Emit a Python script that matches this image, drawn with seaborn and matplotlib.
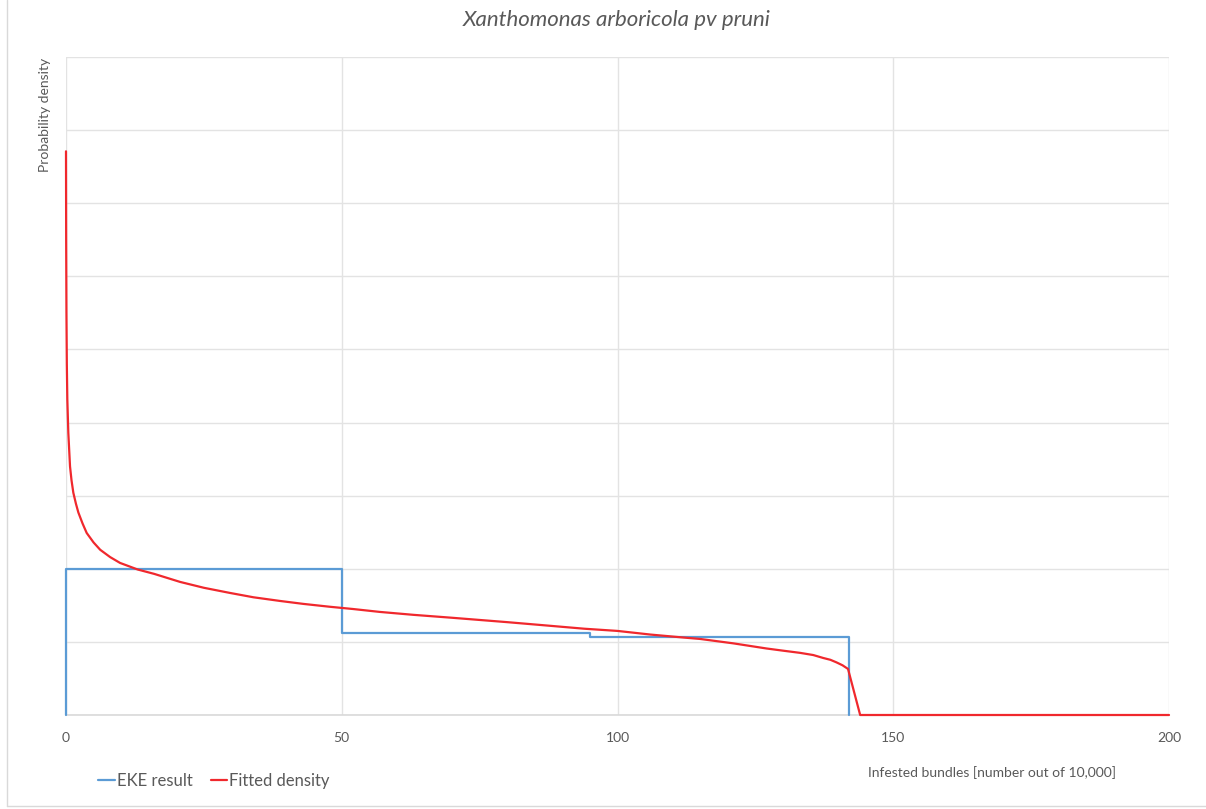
import numpy as np
import pandas as pd
import matplotlib
matplotlib.use("Agg")
import matplotlib.pyplot as plt
import seaborn as sns
from matplotlib.lines import Line2D

# ---- data ----
title = "Xanthomonas arboricola pv pruni"
xlabel = "Infested bundles [number out of 10,000]"
ylabel = "Probability density"
x_ticks = [0, 50, 100, 150, 200]

# EKE result histogram (bin edges and heights, in gridline units)
eke_edges = [0, 50, 95, 142]
eke_heights = [2.0, 1.12, 1.065]

# Fitted density curve
fit_x = [0, 0.03, 0.08, 0.15, 0.24, 0.42, 0.73, 1.0, 1.33, 1.8, 2.24, 3.0,
         3.75, 5.0, 6.2, 8.0, 9.8, 13.0, 16.0, 20.7, 25.0, 29.7, 34.0, 38.8,
         43.0, 47.9, 52.0, 56.9, 63.0, 70.0, 80.0, 87.8, 94.0, 100.0, 106.0,
         111.9, 115.0, 121.0, 127.0, 130.0, 133.1, 135.5, 137.3, 138.6, 139.7,
         140.8, 141.8, 144.0, 200.0]
fit_y = [7.71, 6.5, 5.5, 4.8, 4.32, 3.86, 3.40, 3.21, 3.04, 2.89, 2.77, 2.62,
         2.49, 2.36, 2.26, 2.16, 2.08, 1.99, 1.93, 1.82, 1.74, 1.67, 1.61, 1.56,
         1.52, 1.48, 1.45, 1.41, 1.37, 1.33, 1.27, 1.22, 1.18, 1.15, 1.10,
         1.06, 1.04, 0.98, 0.91, 0.88, 0.85, 0.82, 0.78, 0.755, 0.72,
         0.68, 0.63, 0.0, 0.0]

# ---- build step outline from edges/heights ----
step_x = [eke_edges[0]]
step_y = [0.0]
for i, h in enumerate(eke_heights):
    step_x += [eke_edges[i], eke_edges[i + 1]]
    step_y += [h, h]
step_x.append(eke_edges[-1])
step_y.append(0.0)
eke_df = pd.DataFrame({"x": step_x, "y": step_y})
fit_df = pd.DataFrame({"x": fit_x, "y": fit_y})

sns.set_theme(style="white")
plt.rcParams['font.family'] = ['Lato', 'DejaVu Sans']

blue = "#5B9BD5"
red = "#F0282D"
grid_c = "#E3E3E3"
text_c = "#595959"

fig = plt.figure(figsize=(12.06, 8.09), dpi=100)
ax = fig.add_axes([66 / 1206, 1 - 715 / 809, (1169 - 66) / 1206, (715 - 57) / 809])

sns.lineplot(data=eke_df, x="x", y="y", sort=False, ax=ax, color=blue, lw=1.6,
             estimator=None, zorder=3)
sns.lineplot(data=fit_df, x="x", y="y", sort=False, ax=ax, color=red, lw=1.6,
             estimator=None, zorder=4)
for ln in ax.get_lines():
    ln.set_clip_on(False)
    ln.set_solid_joinstyle("round")

ax.set_xlim(0, 200)
ax.set_ylim(0, 9)
ax.set_xticks(x_ticks)
ax.set_xticklabels([str(t) for t in x_ticks], color=text_c, fontsize=10)
ax.set_yticks(np.arange(0, 10, 1))
ax.set_yticklabels([])
ax.tick_params(axis="both", length=0, pad=12)
ax.grid(True, color=grid_c, lw=1.0)
ax.set_axisbelow(True)
for s in ["top", "right", "left"]:
    ax.spines[s].set_visible(False)
ax.spines["bottom"].set_color("#D9D9D9")
ax.spines["bottom"].set_linewidth(1.2)
ax.spines["bottom"].set_zorder(1)
ax.set_xlabel("")
ax.set_ylabel("")

fig.text(617 / 1206, 1 - 20 / 809, title, ha="center", va="center",
         fontsize=16, style="italic", color=text_c)
fig.text(45 / 1206, 1 - 58 / 809, ylabel, ha="center", va="top",
         rotation=90, fontsize=10, color=text_c)
fig.text(868 / 1206, 1 - 773 / 809, xlabel, ha="left", va="center",
         fontsize=10, color=text_c)

handles = [Line2D([], [], color=blue, lw=1.6), Line2D([], [], color=red, lw=1.6)]
leg = fig.legend(handles, ["EKE result", "Fitted density"], ncol=2,
                 loc="center left", bbox_to_anchor=(90 / 1206, 1 - 781 / 809),
                 frameon=False, fontsize=12, handlelength=1.0, handletextpad=0.1,
                 columnspacing=1.1, labelcolor=text_c, borderpad=0)

# outer chart frame (left and bottom edges visible)
fig.add_artist(Line2D([7 / 1206, 7 / 1206], [3 / 809, 1.0], color="#D9D9D9",
                      lw=1.0, transform=fig.transFigure))
fig.add_artist(Line2D([7 / 1206, 1.0], [3 / 809, 3 / 809], color="#D9D9D9",
                      lw=1.0, transform=fig.transFigure))

fig.savefig("out.png", dpi=100, facecolor="white")
